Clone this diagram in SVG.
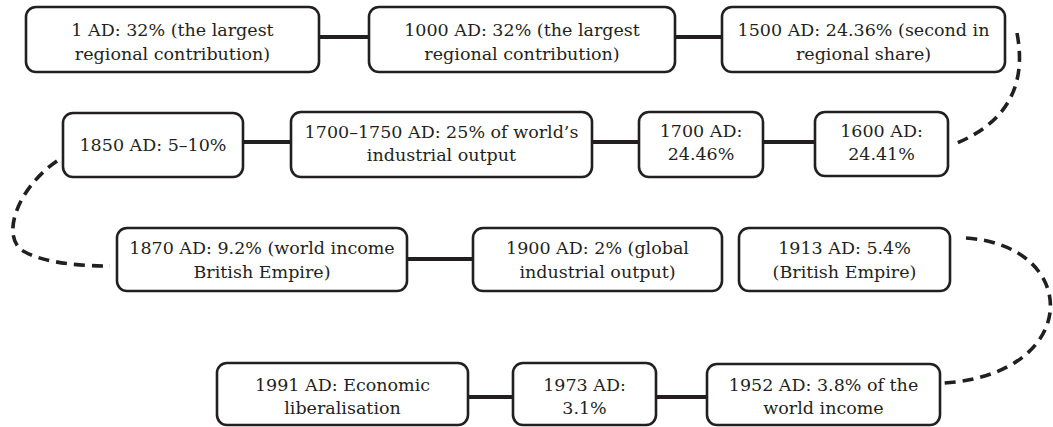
<svg xmlns="http://www.w3.org/2000/svg" width="1053" height="427" viewBox="0 0 1053 427">
<style>
.box{fill:#fff;stroke:#231f20;stroke-width:2.6}
.t{font-family:"DejaVu Serif","Liberation Serif",serif;font-size:17.5px;fill:#231f20;text-anchor:middle}
.solid{stroke:#231f20;stroke-width:4;fill:none}
.dash{stroke:#231f20;stroke-width:3.6;fill:none;stroke-dasharray:11 7}
</style>
<rect width="1053" height="427" fill="#fff"/>
<g id="connectors">
<line class="solid" x1="319" y1="37" x2="369" y2="37"/>
<line class="solid" x1="675" y1="37" x2="722" y2="37"/>
<path class="dash" d="M1017,33 C1026,80 1012,122 952,145"/>
<line class="solid" x1="763" y1="142" x2="815" y2="142"/>
<line class="solid" x1="592" y1="142" x2="639" y2="142"/>
<line class="solid" x1="243" y1="142" x2="291" y2="142"/>
<path class="dash" d="M57,161 C15,190 0,240 25,252 C45,263 80,266 110,266"/>
<line class="solid" x1="407" y1="259" x2="473" y2="259"/>
<path class="dash" d="M966,238 C1082,246 1082,374 944,383"/>
<line class="solid" x1="656" y1="397" x2="707" y2="397"/>
<line class="solid" x1="468" y1="397" x2="513" y2="397"/>
</g>
<g id="n1"><rect class="box" x="26" y="7" width="293" height="65" rx="10"/><text class="t" x="172.5" y="36">1 AD: 32% (the largest</text><text class="t" x="172.5" y="60">regional contribution)</text></g>
<g id="n2"><rect class="box" x="369" y="7" width="306" height="65" rx="10"/><text class="t" x="522" y="36">1000 AD: 32% (the largest</text><text class="t" x="522" y="60">regional contribution)</text></g>
<g id="n3"><rect class="box" x="722" y="7" width="283" height="65" rx="10"/><text class="t" x="863.5" y="36">1500 AD: 24.36% (second in</text><text class="t" x="863.5" y="60">regional share)</text></g>
<g id="n4"><rect class="box" x="815" y="112" width="133" height="64" rx="10"/><text class="t" x="881.5" y="137">1600 AD:</text><text class="t" x="881.5" y="160">24.41%</text></g>
<g id="n5"><rect class="box" x="639" y="112" width="124" height="65" rx="10"/><text class="t" x="701" y="137">1700 AD:</text><text class="t" x="701" y="160">24.46%</text></g>
<g id="n6"><rect class="box" x="291" y="112" width="301" height="65" rx="10"/><text class="t" x="441.5" y="138">1700–1750 AD: 25% of world’s</text><text class="t" x="441.5" y="161">industrial output</text></g>
<g id="n7"><rect class="box" x="63" y="113" width="180" height="64" rx="10"/><text class="t" x="153" y="151">1850 AD: 5–10%</text></g>
<g id="n8"><rect class="box" x="117" y="228" width="290" height="63" rx="10"/><text class="t" x="262" y="254">1870 AD: 9.2% (world income</text><text class="t" x="262" y="278">British Empire)</text></g>
<g id="n9"><rect class="box" x="473" y="228" width="249" height="63" rx="10"/><text class="t" x="597.5" y="254">1900 AD: 2% (global</text><text class="t" x="597.5" y="278">industrial output)</text></g>
<g id="n10"><rect class="box" x="739" y="228" width="211" height="63" rx="10"/><text class="t" x="844.5" y="254">1913 AD: 5.4%</text><text class="t" x="844.5" y="278">(British Empire)</text></g>
<g id="n11"><rect class="box" x="707" y="364" width="233" height="61" rx="10"/><text class="t" x="823.5" y="391">1952 AD: 3.8% of the</text><text class="t" x="823.5" y="414">world income</text></g>
<g id="n12"><rect class="box" x="513" y="363" width="143" height="62" rx="10"/><text class="t" x="584.5" y="391">1973 AD:</text><text class="t" x="584.5" y="414">3.1%</text></g>
<g id="n13"><rect class="box" x="217" y="363" width="251" height="62" rx="10"/><text class="t" x="342.5" y="391">1991 AD: Economic</text><text class="t" x="342.5" y="414">liberalisation</text></g>
</svg>
